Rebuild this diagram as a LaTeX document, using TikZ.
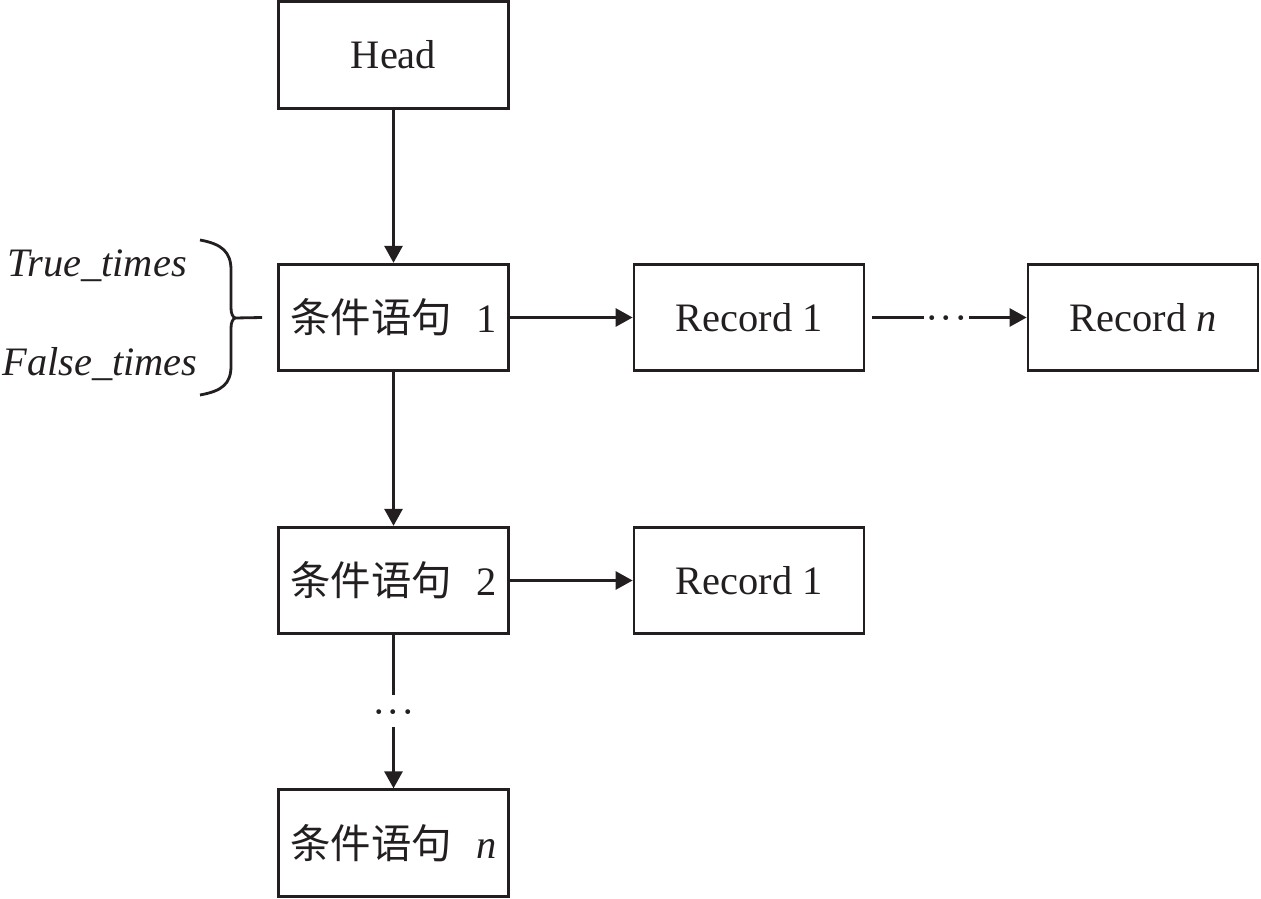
\documentclass[tikz,border=0pt]{standalone}
\usepackage{fontspec}
\setmainfont{Liberation Serif}
\newfontfamily\cjk{Noto Sans CJK SC}
\usetikzlibrary{arrows.meta,positioning}
\definecolor{fcline}{HTML}{231F20}
\newcommand{\threedots}{·\hspace{0.02cm}·\hspace{0.02cm}·}

\begin{document}
\begin{tikzpicture}[x=0.02cm, y=-0.02cm,
    box/.style={draw=fcline, line width=1.6pt, minimum width=4.6cm, minimum height=2.13cm,
                inner sep=0pt, font=\fontsize{23}{27}\selectfont, text=fcline},
    link/.style={draw=fcline, line width=1.6pt},
    arr/.style={link, -{Triangle[length=0.34cm, width=0.36cm]}},
    dotsbox/.style={inner sep=0pt, minimum width=0.9cm, minimum height=0.64cm,
                    text height=0.57cm, text depth=0pt,
                    font=\fontsize{23}{27}\selectfont, text=fcline},
    lbl/.style={font=\fontsize{23}{27}\selectfont\itshape, text=fcline, inner sep=0pt}]
  \useasboundingbox (0,0) rectangle (1261,899);
  % boxes
  \node[box] (head)  at (393.5,55)    {Head};
  \node[box] (cond1) at (393.5,317.5) {{\cjk 条件语句}\hspace{0.6em}1};
  \node[box] (rec1)  at (749,317.5)   {Record 1};
  \node[box] (recn)  at (1143,317.5)  {Record \textit{n}};
  \node[box] (cond2) at (393.5,580.5) {{\cjk 条件语句}\hspace{0.6em}2};
  \node[box] (rec2)  at (749,580.5)   {Record 1};
  \node[box] (condn) at (393.5,843)   {{\cjk 条件语句}\hspace{0.6em}\textit{n}};
  \node[dotsbox] (dotsR) at (946.5,317.5) {\threedots};
  \node[dotsbox] (dotsV) at (393.5,711) {\threedots};
  % connectors
  \draw[arr] (head) -- (cond1);
  \draw[arr] (cond1) -- (rec1);
  \draw[link] ([xshift=0.14cm]rec1.east) -- (dotsR.west);
  \draw[arr] (dotsR) -- (recn);
  \draw[arr] (cond1) -- (cond2);
  \draw[arr] (cond2) -- (rec2);
  \draw[link] (cond2) -- (dotsV);
  \draw[arr] (dotsV) -- (condn);
  % counters with brace
  \node[lbl, anchor=base] (truet)  at (97,276)  {True\_times};
  \node[lbl, anchor=base] (falset) at (100,375) {False\_times};
  \draw[link] (200,240) .. controls (222,244) and (231,252) .. (231,270) -- (231,308)
    .. controls (231,314) and (233,317) .. (235,318)
    .. controls (233,319) and (231,322) .. (231,328) -- (231,366)
    .. controls (231,384) and (222,391) .. (200,395);
  \coordinate (tip) at (235,318);
  \draw[link] (tip) -- ([xshift=-0.3cm]cond1.west);
\end{tikzpicture}
\end{document}
